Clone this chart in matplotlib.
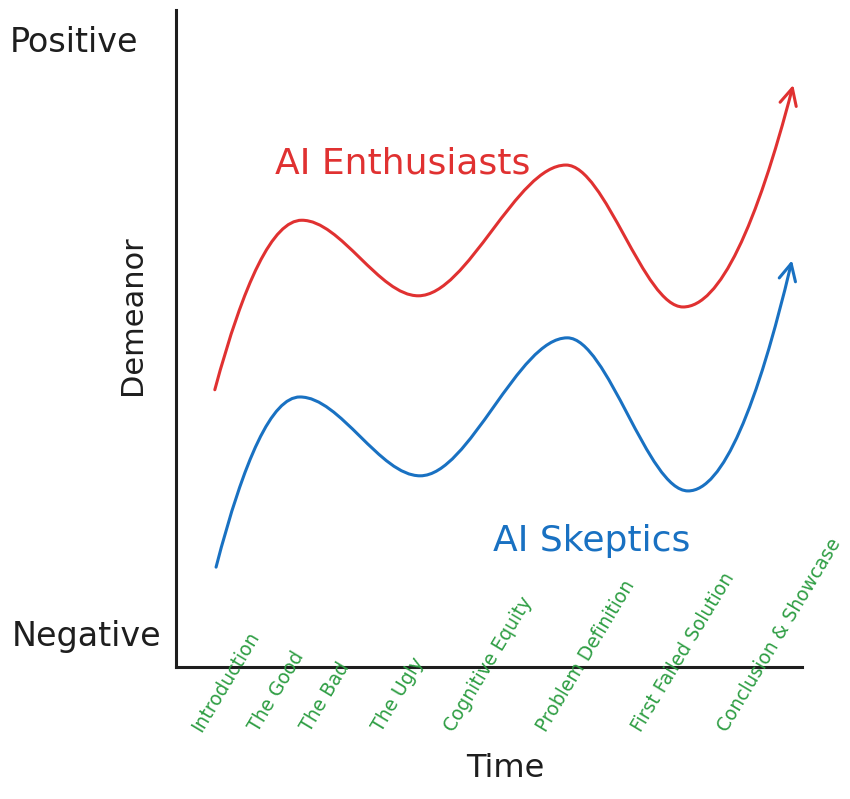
import matplotlib
matplotlib.use("Agg")
import matplotlib.pyplot as plt
from matplotlib.path import Path
from matplotlib.patches import FancyArrowPatch

# stages along the time axis
stages = ["Introduction", "The Good", "The Bad", "The Ugly", "Cognitive Equity",
          "Problem Definition", "First Failed Solution", "Conclusion & Showcase"]
stage_x = [4.6, 13.7, 22.0, 33.4, 44.9, 59.6, 74.8, 88.5]

# demeanor key points (start, peaks / troughs, end)
enth_x = [6.2, 20.1, 38.7, 62.3, 81.0, 98.6]
enth_y = [42.2, 68.0, 56.5, 76.4, 54.8, 88.6]
skep_x = [6.4, 19.8, 39.0, 62.5, 81.8, 98.4]
skep_y = [15.2, 41.1, 29.1, 50.1, 26.8, 61.9]

RED = "#e03131"
BLUE = "#1971c2"
GREEN = "#2f9e44"
INK = "#1e1e1e"


# smooth bezier path through the key points, flat at the turning points
def smooth_path(xs, ys, k=1.9):
    n = len(xs)
    slopes = [0.0] * n
    slopes[0] = k * (ys[1] - ys[0]) / (xs[1] - xs[0])
    slopes[-1] = k * (ys[-1] - ys[-2]) / (xs[-1] - xs[-2])
    verts = [(xs[0], ys[0])]
    codes = [Path.MOVETO]
    for i in range(n - 1):
        dx = (xs[i + 1] - xs[i]) / 3.0
        verts += [(xs[i] + dx, ys[i] + slopes[i] * dx),
                  (xs[i + 1] - dx, ys[i + 1] - slopes[i + 1] * dx),
                  (xs[i + 1], ys[i + 1])]
        codes += [Path.CURVE4] * 3
    return Path(verts, codes)


fig = plt.figure(figsize=(8.5, 7.99), dpi=100)
ax = fig.add_axes([176 / 850, 132 / 799, 626 / 850, 657 / 799])
ax.set_xlim(0, 100)
ax.set_ylim(0, 100)

for s in ["top", "right"]:
    ax.spines[s].set_visible(False)
for s in ["left", "bottom"]:
    ax.spines[s].set_linewidth(2.2)
    ax.spines[s].set_color(INK)
ax.set_xticks([])
ax.set_yticks([])

for xs, ys, col in [(enth_x, enth_y, RED), (skep_x, skep_y, BLUE)]:
    arrow = FancyArrowPatch(path=smooth_path(xs, ys), arrowstyle="->",
                            mutation_scale=30, color=col, lw=2.2,
                            capstyle="round", joinstyle="round")
    ax.add_patch(arrow)

ax.text(15.8, 76.7, "AI Enthusiasts", color=RED, fontsize=26,
        ha="left", va="center")
ax.text(50.6, 19.2, "AI Skeptics", color=BLUE, fontsize=26,
        ha="left", va="center")

# stage labels, slanted and crossing the axis
xtr = ax.get_xaxis_transform()
for x, lab in zip(stage_x, stages):
    ax.text(x, -0.1035, lab, transform=xtr, color=GREEN, fontsize=13.5,
            rotation=59, rotation_mode="anchor", ha="left", va="bottom")

ytr = ax.get_yaxis_transform()
ax.text(-0.265, 95.1, "Positive", transform=ytr, fontsize=24, color=INK,
        ha="left", va="center")
ax.text(-0.262, 4.6, "Negative", transform=ytr, fontsize=24, color=INK,
        ha="left", va="center")
ax.text(-0.069, 53.6, "Demeanor", transform=ytr, fontsize=22, color=INK,
        rotation=90, ha="center", va="center")
ax.text(0.526, -0.154, "Time", transform=ax.transAxes, fontsize=23, color=INK,
        ha="center", va="center")

fig.savefig("out.png", dpi=100)
